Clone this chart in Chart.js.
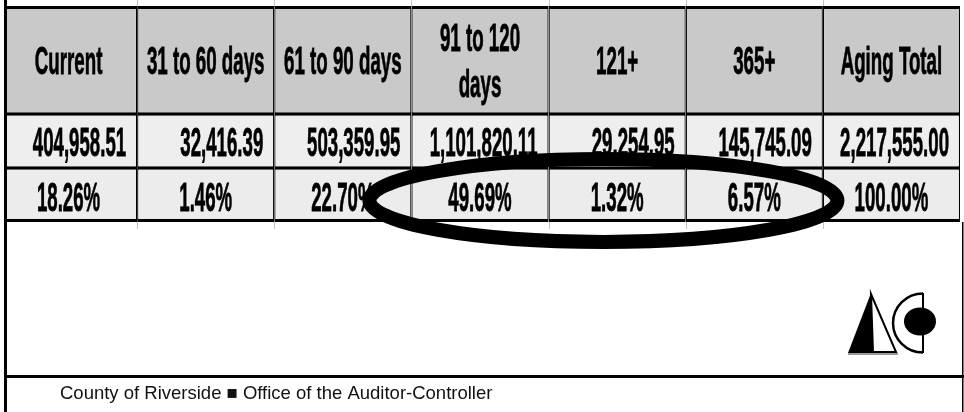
<!DOCTYPE html>
<html>
<head>
<meta charset="utf-8">
<script src="https://cdn.jsdelivr.net/npm/chart.js@4"></script>
<style>
  html, body { margin: 0; padding: 0; background: #fff; }
  canvas { display: block; }
</style>
</head>
<body>
<canvas id="aging" width="964" height="412"></canvas>
<script>
// aging buckets (column headers)
const columns = ["Current", "31 to 60 days", "61 to 90 days", ["91 to 120", "days"], "121+", "365+", "Aging Total"];
// dollar amount per bucket
const amounts = [404958.51, 32416.39, 503359.95, 1101820.11, 29254.95, 145745.09, 2217555.00];
// share of the aging total, %
const percents = [18.26, 1.46, 22.70, 49.69, 1.32, 6.57, 100.00];

const footerText = "County of Riverside \u25A0 Office of the Auditor-Controller";

const money = v => v.toLocaleString("en-US", { minimumFractionDigits: 2, maximumFractionDigits: 2 });
const pct = v => v.toFixed(2) + "%";

// draw text squeezed horizontally, a bit heavier (narrow bold look)
function squeezed(ctx, text, x, y, align, sx) {
  ctx.save();
  ctx.translate(x, y);
  ctx.scale(sx, 1);
  ctx.textAlign = align;
  ctx.lineWidth = 0.8;
  ctx.strokeText(text, 0, 0);
  ctx.fillText(text, 0, 0);
  ctx.restore();
}

const cellText = {
  id: "cellText",
  afterDatasetsDraw(chart) {
    const ctx = chart.ctx;
    ctx.save();
    ctx.fillStyle = "#000";
    ctx.strokeStyle = "#000";
    ctx.textBaseline = "alphabetic";
    chart.data.datasets.forEach((ds, di) => {
      const meta = chart.getDatasetMeta(di);
      meta.data.forEach((bar, i) => {
        const top = Math.min(bar.y, bar.base), bottom = Math.max(bar.y, bar.base);
        const cy = (top + bottom) / 2;
        if (ds.kind === "header") {
          ctx.font = 'bold 39px "Liberation Sans", Arial, sans-serif';
          const label = columns[i];
          if (Array.isArray(label)) {
            squeezed(ctx, label[0], bar.x, cy - 23 + 14, "center", 0.48);
            squeezed(ctx, label[1], bar.x, cy + 23 + 14, "center", 0.48);
          } else {
            squeezed(ctx, label, bar.x, cy + 14, "center", 0.48);
          }
        } else if (ds.kind === "amount") {
          ctx.font = 'bold 41px "Liberation Sans", Arial, sans-serif';
          squeezed(ctx, money(amounts[i]), bar.x + bar.width / 2 - 11, cy + 15, "right", 0.455);
        } else {
          ctx.font = 'bold 41px "Liberation Sans", Arial, sans-serif';
          squeezed(ctx, pct(percents[i]), bar.x, cy + 16, "center", 0.455);
        }
      });
    });
    ctx.restore();
  }
};

const decorations = {
  id: "decorations",
  afterDraw(chart) {
    const ctx = chart.ctx;
    const x = chart.scales.x, y = chart.scales.y;
    const area = chart.chartArea;
    ctx.save();

    // faint column stubs above and below the table
    ctx.strokeStyle = "#c4c4c4";
    ctx.lineWidth = 1;
    for (let i = 1; i < columns.length; i++) {
      const bx = Math.round(x.getPixelForValue(i - 0.5)) + 0.5;
      ctx.beginPath();
      ctx.moveTo(bx, 0); ctx.lineTo(bx, area.top);
      ctx.moveTo(bx, area.bottom); ctx.lineTo(bx, area.bottom + 7);
      ctx.stroke();
    }

    // page frame
    ctx.fillStyle = "#fff";
    ctx.fillRect(0, 0, 4, chart.height);
    ctx.fillStyle = "#000";
    ctx.fillRect(4, 0, 3, chart.height);
    ctx.fillRect(962, area.bottom, 1.5, chart.height - area.bottom);
    ctx.fillRect(4, 375, 960, 3);

    // highlight ellipse around the older buckets
    const cx = x.getPixelForValue(3.9);
    const cy = y.getPixelForValue(3.6);
    ctx.beginPath();
    ctx.ellipse(cx, cy, 234, 41.5, 0, 0, Math.PI * 2);
    ctx.lineWidth = 14;
    ctx.strokeStyle = "#000";
    ctx.stroke();

    // auditor-controller logo
    ctx.fillStyle = "#000";
    ctx.beginPath();
    ctx.moveTo(871, 293); ctx.lineTo(848, 353); ctx.lineTo(873, 353); ctx.closePath();
    ctx.fill();
    ctx.lineWidth = 2;
    ctx.beginPath();
    ctx.moveTo(871, 294); ctx.lineTo(873, 352); ctx.lineTo(896, 352); ctx.closePath();
    ctx.stroke();
    ctx.fillStyle = "#999";
    ctx.fillRect(848, 353, 50, 2);
    ctx.strokeStyle = "#000";
    ctx.lineWidth = 2.5;
    ctx.beginPath();
    ctx.ellipse(923, 323, 30, 29.5, 0, Math.PI / 2, Math.PI * 1.5);
    ctx.stroke();
    ctx.lineWidth = 2;
    ctx.beginPath();
    ctx.moveTo(923, 293); ctx.lineTo(923, 353);
    ctx.stroke();
    ctx.fillStyle = "#000";
    ctx.beginPath();
    ctx.ellipse(920, 321.5, 16, 14, 0, 0, Math.PI * 2);
    ctx.fill();

    // footer
    ctx.font = '18.5px "Liberation Sans", Arial, sans-serif';
    ctx.fillStyle = "#111";
    ctx.textAlign = "left";
    ctx.textBaseline = "alphabetic";
    ctx.fillText(footerText, 60, 399);

    ctx.restore();
  }
};

const rowStyle = {
  grouped: false,
  barPercentage: 1,
  categoryPercentage: 1,
  borderSkipped: false,
  inflateAmount: 0,
  borderColor: "#000"
};

new Chart(document.getElementById("aging"), {
  type: "bar",
  data: {
    labels: columns,
    datasets: [
      Object.assign({}, rowStyle, {
        kind: "header",
        data: columns.map(() => [0, 2]),
        backgroundColor: "#c9c9c9",
        borderWidth: { top: 3, bottom: 1.75, left: 1.25, right: 1.25 }
      }),
      Object.assign({}, rowStyle, {
        kind: "amount",
        data: amounts.map(() => [2, 3]),
        backgroundColor: "#eeeeee",
        borderWidth: { top: 1.75, bottom: 1.75, left: 1.25, right: 1.25 }
      }),
      Object.assign({}, rowStyle, {
        kind: "percent",
        data: percents.map(() => [3, 4]),
        backgroundColor: "#ececec",
        borderWidth: { top: 1.75, bottom: 3, left: 1.25, right: 1.25 }
      })
    ]
  },
  options: {
    responsive: false,
    animation: false,
    layout: { padding: { top: 6, bottom: 190, left: 0, right: 4 } },
    plugins: { legend: { display: false }, tooltip: { enabled: false } },
    scales: {
      x: { display: false, offset: true, grid: { display: false } },
      y: { display: false, min: 0, max: 4, reverse: true }
    }
  },
  plugins: [cellText, decorations]
});
</script>
</body>
</html>
